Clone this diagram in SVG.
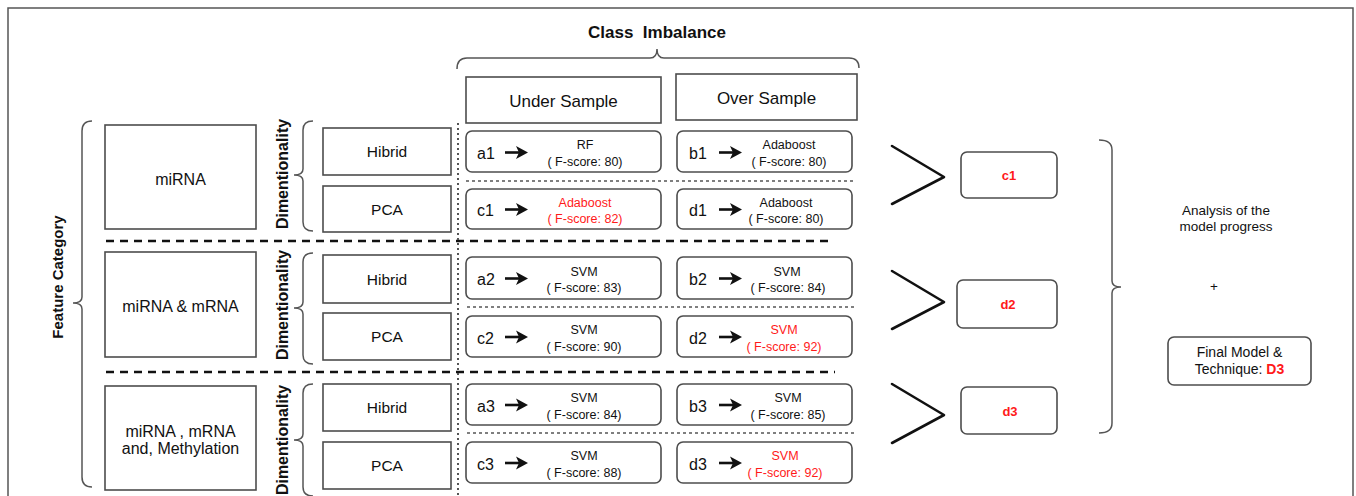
<svg xmlns="http://www.w3.org/2000/svg" xmlns:xlink="http://www.w3.org/1999/xlink" width="1356" height="496" viewBox="0 0 1356 496">
  <style>
    .box{fill:#fff;stroke:#4d4d4d;stroke-width:1.6}
    .t{font-family:"Liberation Sans",Arial,Helvetica,sans-serif;fill:#111}
    .lbl{font-size:16px}
    .big{font-size:17px}
    .mid{font-size:15.5px;text-anchor:middle}
    .sm{font-size:12.5px;text-anchor:middle}
    .r{fill:#ff1a1a}
    .b{font-weight:bold}
    .brace{fill:none;stroke:#555;stroke-width:1.5}
    .chev{fill:none;stroke:#111;stroke-width:2.6;stroke-linejoin:round;stroke-linecap:round}
    .dash{stroke:#111;stroke-width:2.6;stroke-dasharray:8 6}
    .dot{stroke:#555;stroke-width:1.4;stroke-dasharray:3 3}
    .vdot{stroke:#555;stroke-width:2;stroke-dasharray:2 3}
  </style>
  <defs>
    <g id="arr">
      <line x1="0" y1="0" x2="14" y2="0" stroke="#111" stroke-width="2.6"/>
      <polygon points="11,-6.5 23,0 11,6.5 14,0" fill="#111"/>
    </g>
  </defs>

  <!-- outer frame -->
  <rect x="8" y="8" width="1345" height="500" fill="#fff" stroke="#555" stroke-width="1.5"/>

  <!-- section separators, braces and chevrons -->
  <g id="connectors">
    <line class="dash" x1="106" y1="241" x2="834" y2="241"/>
    <line class="dash" x1="106" y1="372" x2="835" y2="372"/>
    <line class="vdot" x1="458" y1="123" x2="458" y2="496"/>
    <line class="dot" x1="466" y1="181" x2="855" y2="181"/>
    <line class="dot" x1="467" y1="307" x2="857" y2="307"/>
    <line class="dot" x1="467" y1="433" x2="857" y2="433"/>

    <path class="brace" d="M92 121 Q82 121 82 131 L82 297 Q82 303 73 303 Q82 303 82 309 L82 477 Q82 487 92 487"/>
    <path class="brace" d="M313 121 Q303 121 303 130 L303 169 Q303 175 294 175 Q303 175 303 181 L303 222 Q303 231 313 231"/>
    <path class="brace" d="M313 253 Q303 253 303 262 L303 302 Q303 308 294 308 Q303 308 303 314 L303 355 Q303 364 313 364"/>
    <path class="brace" d="M313 384 Q303 384 303 393 L303 434 Q303 440 294 440 Q303 440 303 446 L303 487 Q303 496 313 496"/>
    <path class="brace" d="M457 69 Q457 58 467 58 L650 58 Q657 58 657 49 Q657 58 664 58 L849 58 Q859 58 859 68"/>
    <path class="brace" d="M1099 140 Q1112 140 1112 150 L1112 281 Q1112 287 1121 287 Q1112 287 1112 293 L1112 423 Q1112 433 1099 433"/>

    <polyline class="chev" points="892,146 944,177 892,204"/>
    <polyline class="chev" points="892,271 944,302 892,329"/>
    <polyline class="chev" points="892,384 944,415 892,443"/>
  </g>

  <!-- axis titles -->
  <g id="titles">
    <text class="t b big" x="657" y="38" text-anchor="middle" xml:space="preserve">Class  Imbalance</text>
    <text class="t b" font-size="15" text-anchor="middle" transform="translate(63,277) rotate(-90)">Feature Category</text>
    <text class="t b" font-size="16" text-anchor="middle" transform="translate(288,174) rotate(-90)">Dimentionality</text>
    <text class="t b" font-size="16" text-anchor="middle" transform="translate(288,305) rotate(-90)">Dimentionality</text>
    <text class="t b" font-size="16" text-anchor="middle" transform="translate(288,440) rotate(-90)">Dimentionality</text>
  </g>

  <!-- sampling headers -->
  <g id="under-sample">
    <rect class="box" x="466" y="77" width="195" height="46"/>
    <text class="t big" x="563.5" y="107" text-anchor="middle">Under Sample</text>
  </g>
  <g id="over-sample">
    <rect class="box" x="676" y="74" width="181" height="46"/>
    <text class="t big" x="766.5" y="104" text-anchor="middle">Over Sample</text>
  </g>

  <!-- feature categories -->
  <g id="cat-mirna">
    <rect class="box" x="105" y="125" width="151" height="104"/>
    <text class="t lbl" x="180.5" y="185" text-anchor="middle">miRNA</text>
  </g>
  <g id="cat-mirna-mrna">
    <rect class="box" x="105" y="252" width="151" height="105"/>
    <text class="t lbl" x="180.5" y="312" text-anchor="middle">miRNA &amp; mRNA</text>
  </g>
  <g id="cat-all">
    <rect class="box" x="105" y="386" width="151" height="104"/>
    <text class="t lbl" x="180.5" y="437" text-anchor="middle">miRNA , mRNA</text>
    <text class="t lbl" x="180.5" y="454" text-anchor="middle">and, Methylation</text>
  </g>

  <!-- dimensionality reduction -->
  <g id="hibrid-1"><rect class="box" x="323" y="128" width="128" height="47"/><text class="t mid" x="387" y="157">Hibrid</text></g>
  <g id="pca-1"><rect class="box" x="323" y="186" width="128" height="46"/><text class="t mid" x="387" y="215">PCA</text></g>
  <g id="hibrid-2"><rect class="box" x="323" y="255" width="128" height="48"/><text class="t mid" x="387" y="285">Hibrid</text></g>
  <g id="pca-2"><rect class="box" x="323" y="313" width="128" height="47"/><text class="t mid" x="387" y="342">PCA</text></g>
  <g id="hibrid-3"><rect class="box" x="323" y="384" width="128" height="47"/><text class="t mid" x="387" y="413">Hibrid</text></g>
  <g id="pca-3"><rect class="box" x="323" y="442" width="128" height="47"/><text class="t mid" x="387" y="471">PCA</text></g>

  <!-- results: under sample column -->
  <g id="a1">
    <rect class="box" x="466" y="131" width="195" height="41" rx="6"/>
    <text class="t lbl" x="477" y="158.5">a1</text><use xlink:href="#arr" transform="translate(505,152.5)"/>
    <text class="t sm" x="585" y="149">RF</text><text class="t sm" x="585" y="165.5">( F-score: 80)</text>
  </g>
  <g id="c1">
    <rect class="box" x="466" y="189" width="195" height="40" rx="6"/>
    <text class="t lbl" x="477" y="216">c1</text><use xlink:href="#arr" transform="translate(505,209.5)"/>
    <text class="t sm r" x="585" y="206.5">Adaboost</text><text class="t sm r" x="585" y="223">( F-score: 82)</text>
  </g>
  <g id="a2">
    <rect class="box" x="466" y="257" width="195" height="42" rx="6"/>
    <text class="t lbl" x="477" y="285">a2</text><use xlink:href="#arr" transform="translate(505,278.5)"/>
    <text class="t sm" x="584" y="275.5">SVM</text><text class="t sm" x="584" y="292">( F-score: 83)</text>
  </g>
  <g id="c2">
    <rect class="box" x="466" y="316" width="195" height="41" rx="6"/>
    <text class="t lbl" x="477" y="343.5">c2</text><use xlink:href="#arr" transform="translate(505,337)"/>
    <text class="t sm" x="584" y="334">SVM</text><text class="t sm" x="584" y="350.5">( F-score: 90)</text>
  </g>
  <g id="a3">
    <rect class="box" x="466" y="384" width="195" height="41" rx="6"/>
    <text class="t lbl" x="477" y="411.5">a3</text><use xlink:href="#arr" transform="translate(505,405)"/>
    <text class="t sm" x="584" y="402">SVM</text><text class="t sm" x="584" y="418.5">( F-score: 84)</text>
  </g>
  <g id="c3">
    <rect class="box" x="466" y="442" width="195" height="41" rx="6"/>
    <text class="t lbl" x="477" y="469.5">c3</text><use xlink:href="#arr" transform="translate(505,463)"/>
    <text class="t sm" x="584" y="460">SVM</text><text class="t sm" x="584" y="476.5">( F-score: 88)</text>
  </g>

  <!-- results: over sample column -->
  <g id="b1">
    <rect class="box" x="677" y="131" width="175" height="41" rx="6"/>
    <text class="t lbl" x="689" y="158.5">b1</text><use xlink:href="#arr" transform="translate(719,152.5)"/>
    <text class="t sm" x="789" y="149">Adaboost</text><text class="t sm" x="789" y="165.5">( F-score: 80)</text>
  </g>
  <g id="d1">
    <rect class="box" x="677" y="189" width="175" height="40" rx="6"/>
    <text class="t lbl" x="689" y="216">d1</text><use xlink:href="#arr" transform="translate(719,209.5)"/>
    <text class="t sm" x="786" y="206.5">Adaboost</text><text class="t sm" x="786" y="223">( F-score: 80)</text>
  </g>
  <g id="b2">
    <rect class="box" x="677" y="257" width="175" height="42" rx="6"/>
    <text class="t lbl" x="689" y="285">b2</text><use xlink:href="#arr" transform="translate(719,278.5)"/>
    <text class="t sm" x="787" y="275.5">SVM</text><text class="t sm" x="788" y="292">( F-score: 84)</text>
  </g>
  <g id="d2">
    <rect class="box" x="677" y="316" width="175" height="41" rx="6"/>
    <text class="t lbl" x="689" y="343.5">d2</text><use xlink:href="#arr" transform="translate(719,337)"/>
    <text class="t sm r" x="784" y="334">SVM</text><text class="t sm r" x="784" y="350.5">( F-score: 92)</text>
  </g>
  <g id="b3">
    <rect class="box" x="677" y="384" width="175" height="41" rx="6"/>
    <text class="t lbl" x="689" y="411.5">b3</text><use xlink:href="#arr" transform="translate(719,405)"/>
    <text class="t sm" x="788" y="402">SVM</text><text class="t sm" x="788" y="418.5">( F-score: 85)</text>
  </g>
  <g id="d3">
    <rect class="box" x="677" y="442" width="175" height="41" rx="6"/>
    <text class="t lbl" x="689" y="469.5">d3</text><use xlink:href="#arr" transform="translate(719,463)"/>
    <text class="t sm r" x="785" y="460">SVM</text><text class="t sm r" x="785" y="476.5">( F-score: 92)</text>
  </g>

  <!-- best per category -->
  <g id="best-1">
    <rect class="box" x="961" y="152" width="96" height="46" rx="6"/>
    <text class="t b r" font-size="13" x="1009" y="180" text-anchor="middle">c1</text>
  </g>
  <g id="best-2">
    <rect class="box" x="957" y="280" width="100" height="48" rx="6"/>
    <text class="t b r" font-size="13" x="1008" y="309" text-anchor="middle">d2</text>
  </g>
  <g id="best-3">
    <rect class="box" x="961" y="387" width="96" height="47" rx="6"/>
    <text class="t b r" font-size="13" x="1010" y="416" text-anchor="middle">d3</text>
  </g>

  <!-- summary -->
  <g id="analysis">
    <text class="t" font-size="13.5" x="1226" y="215" text-anchor="middle">Analysis of the</text>
    <text class="t" font-size="13.5" x="1226" y="231" text-anchor="middle">model progress</text>
    <text class="t" font-size="13.5" x="1214" y="291" text-anchor="middle">+</text>
  </g>
  <g id="final-model">
    <rect class="box" x="1168" y="337" width="143" height="48" rx="6"/>
    <text class="t" font-size="14" x="1239.5" y="357" text-anchor="middle">Final Model &amp;</text>
    <text class="t" font-size="14" x="1239.5" y="374" text-anchor="middle">Technique: <tspan class="b r">D3</tspan></text>
  </g>
</svg>
